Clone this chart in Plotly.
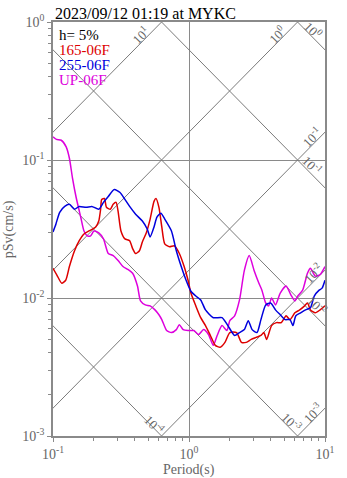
import numpy as np
import plotly.graph_objects as go

# ---------------- data ----------------
periods_165 = [0.1, 0.107, 0.116, 0.124, 0.132, 0.144, 0.156, 0.169, 0.184, 0.206, 0.217, 0.224, 0.228, 0.239,
               0.247, 0.264, 0.277, 0.291, 0.301, 0.316, 0.338, 0.366, 0.385, 0.405, 0.432, 0.454, 0.485, 0.518,
               0.553, 0.572, 0.601, 0.631, 0.663, 0.719, 0.781, 0.849, 0.921, 0.984, 1.033, 1.122, 1.219, 1.322,
               1.436, 1.56, 1.693, 1.838, 1.995, 2.239, 2.43, 2.638, 2.865, 3.112, 3.38, 3.548, 3.725, 4.046,
               4.396, 4.772, 5.176, 5.527, 6.005, 6.516, 7.079, 7.431, 7.816, 8.484, 9.204, 10.0]
psv_165 = [0.0164, 0.0146, 0.0128, 0.01345, 0.0169, 0.022, 0.026, 0.0291, 0.0306, 0.0327, 0.0361, 0.044, 0.0518,
           0.0526, 0.0454, 0.044, 0.0477, 0.0493, 0.0425, 0.0306, 0.0268, 0.026, 0.0228, 0.021, 0.022, 0.0255,
           0.0296, 0.0373, 0.0501, 0.0526, 0.0454, 0.0327, 0.0247, 0.0235, 0.0239, 0.021, 0.0169, 0.01345, 0.01086,
           0.00877, 0.0072, 0.00631, 0.00535, 0.00454, 0.0044, 0.00477, 0.00562, 0.00562, 0.00477, 0.00477,
           0.00501, 0.00518, 0.00535, 0.00562, 0.00501, 0.00631, 0.00663, 0.00663, 0.00743, 0.00697, 0.00781,
           0.0082, 0.00877, 0.0092, 0.0082, 0.00781, 0.0082, 0.00877]

periods_255 = [0.1, 0.105, 0.112, 0.122, 0.132, 0.144, 0.156, 0.175, 0.193, 0.217, 0.235, 0.255, 0.282, 0.311,
               0.338, 0.366, 0.405, 0.454, 0.493, 0.518, 0.553, 0.581, 0.621, 0.663, 0.743, 0.807, 0.877, 0.952,
               1.033, 1.122, 1.219, 1.322, 1.509, 1.75, 1.931, 2.165, 2.352, 2.553, 2.727, 2.913, 3.162, 3.38,
               3.664, 3.981, 4.325, 4.688, 5.093, 5.527, 5.808, 6.105, 6.625, 7.197, 7.816, 8.337, 9.057, 9.52, 10.0]
psv_255 = [0.0301, 0.0343, 0.0418, 0.0461, 0.0477, 0.044, 0.0461, 0.0454, 0.0461, 0.044, 0.0493, 0.0544, 0.0611,
           0.0581, 0.0518, 0.0461, 0.0405, 0.0361, 0.0316, 0.0277, 0.0327, 0.0385, 0.0411, 0.0373, 0.0306, 0.022,
           0.0169, 0.01345, 0.0112, 0.01033, 0.00968, 0.0082, 0.0072, 0.0072, 0.00631, 0.00535, 0.00562, 0.0059,
           0.00685, 0.0059, 0.00562, 0.00697, 0.00891, 0.0092, 0.0082, 0.00756, 0.00697, 0.00697, 0.00631,
           0.00743, 0.00781, 0.0082, 0.00849, 0.01033, 0.0114, 0.01179, 0.01345]

periods_up = [0.1, 0.106, 0.115, 0.125, 0.132, 0.139, 0.148, 0.16, 0.169, 0.179, 0.189, 0.2, 0.217, 0.235, 0.255,
              0.277, 0.301, 0.327, 0.355, 0.385, 0.418, 0.44, 0.477, 0.518, 0.562, 0.601, 0.631, 0.685, 0.743,
              0.807, 0.849, 0.906, 0.984, 1.086, 1.179, 1.28, 1.39, 1.509, 1.611, 1.75, 1.9, 1.995, 2.165, 2.352,
              2.553, 2.773, 3.01, 3.266, 3.436, 3.664, 3.852, 4.046, 4.325, 4.688, 5.176, 5.623, 6.005, 6.31,
              6.849, 7.431, 7.816, 8.484, 9.204, 10.0]
psv_up = [0.147, 0.141, 0.139, 0.1245, 0.103, 0.0743, 0.0535, 0.0385, 0.0306, 0.0282, 0.0282, 0.0306, 0.0296,
          0.0268, 0.021, 0.0203, 0.0187, 0.0169, 0.0161, 0.0151, 0.0122, 0.00952, 0.00891, 0.00877, 0.0082,
          0.00756, 0.00697, 0.00581, 0.00562, 0.0059, 0.00641, 0.0059, 0.00581, 0.00581, 0.00544, 0.0059,
          0.00544, 0.00454, 0.00535, 0.00631, 0.00581, 0.00685, 0.00743, 0.00968, 0.01585, 0.0203, 0.01585,
          0.0128, 0.0114, 0.0092, 0.00877, 0.01, 0.00891, 0.01086, 0.0122, 0.0105, 0.00952, 0.01033, 0.0114,
          0.0151, 0.0164, 0.0144, 0.0148, 0.0169]

series_names = ["165-06F", "255-06F", "UP-06F"]
series_colors = ["#dd0000", "#0000dd", "#dd00dd"]

title_text = "2023/09/12 01:19 at MYKC"
damping_text = "h= 5%"

# tripartite grid levels
sd_levels = [1e-4, 1e-3, 1e-2, 1e-1, 1.0]      # displacement (cm)
sa_levels = [1e-3, 1e-2, 1e-1, 1.0, 10.0]      # acceleration (cm/s^2)

# labels of the diagonal lines: (text, period, psv, kind)
diag_labels = [
    ("10<sup>1</sup>", 0.44, 0.80, "sa"),
    ("10<sup>0</sup>", 4.47, 0.82, "sa"),
    ("10<sup>0</sup>", 8.2, 0.87, "sd"),
    ("10<sup>-1</sup>", 7.94, 0.148, "sa"),
    ("10<sup>-1</sup>", 8.07, 0.092, "sd"),
    ("10<sup>-2</sup>", 8.2, 0.0151, "sa"),
    ("10<sup>-2</sup>", 8.77, 0.0089, "sd"),
    ("10<sup>-3</sup>", 8.07, 0.00148, "sa"),
    ("10<sup>-3</sup>", 5.71, 0.00126, "sd"),
    ("10<sup>-4</sup>", 0.553, 0.00122, "sd"),
]

FONT = "Liberation Serif"
GRAY = "#8a8a8a"
LINE_GRAY = "#7a7a7a"
TXT_GRAY = "#666666"

fig = go.Figure()

Tends = np.array([0.01, 100.0])
for sd in sd_levels:
    fig.add_trace(go.Scatter(x=Tends, y=2 * np.pi * sd / Tends, mode="lines",
                             line=dict(color=LINE_GRAY, width=1), hoverinfo="skip", showlegend=False))
for sa in sa_levels:
    fig.add_trace(go.Scatter(x=Tends, y=sa * Tends / (2 * np.pi), mode="lines",
                             line=dict(color=LINE_GRAY, width=1), hoverinfo="skip", showlegend=False))

for per, val, name, col in [(periods_up, psv_up, series_names[2], series_colors[2]),
                            (periods_165, psv_165, series_names[0], series_colors[0]),
                            (periods_255, psv_255, series_names[1], series_colors[1])]:
    fig.add_trace(go.Scatter(x=per, y=val, mode="lines", name=name,
                             line=dict(color=col, width=1.5, shape="spline", smoothing=0.6),
                             showlegend=False))

annotations = []
for txt, T, v, kind in diag_labels:
    annotations.append(dict(x=np.log10(T), y=np.log10(v), xref="x", yref="y", text=txt,
                            showarrow=False, textangle=-45 if kind == "sa" else 45,
                            font=dict(family=FONT, size=13, color=TXT_GRAY)))

# title and legend texts
annotations.append(dict(x=0, y=1.021, xref="paper", yref="paper", xanchor="left", yanchor="middle",
                        text=title_text, showarrow=False, font=dict(family=FONT, size=16, color="black")))
leg_y = [0.968, 0.932, 0.896, 0.861]
leg_txt = [damping_text] + series_names
leg_col = ["black"] + series_colors
for yy, t, c in zip(leg_y, leg_txt, leg_col):
    annotations.append(dict(x=0.016, y=yy, xref="paper", yref="paper", xanchor="left", yanchor="middle",
                            text=t, showarrow=False, font=dict(family=FONT, size=15, color=c)))

# axis titles
annotations.append(dict(x=0.5, y=-0.083, xref="paper", yref="paper", xanchor="center", yanchor="middle",
                        text="Period(s)", showarrow=False, font=dict(family=FONT, size=14, color=TXT_GRAY)))
annotations.append(dict(x=-0.161, y=0.5, xref="paper", yref="paper", xanchor="center", yanchor="middle",
                        text="pSv(cm/s)", textangle=-90, showarrow=False,
                        font=dict(family=FONT, size=14, color=TXT_GRAY)))

minor_x = [m * 10.0 ** e for e in (-1, 0) for m in range(2, 10)]
minor_y = [m * 10.0 ** e for e in (-3, -2, -1) for m in range(2, 10)]

axis_common = dict(type="log", showline=True, linecolor=GRAY, linewidth=1.5, mirror=True,
                   showgrid=True, gridcolor=GRAY, gridwidth=1, zeroline=False,
                   ticks="outside", ticklen=4, tickcolor=GRAY, tickwidth=1,
                   tickfont=dict(family=FONT, size=14, color=TXT_GRAY))

fig.update_layout(
    width=347, height=478,
    margin=dict(l=53, r=14, t=15, b=42),
    paper_bgcolor="white", plot_bgcolor="white",
    xaxis=dict(range=[-1, 1], tickvals=[0.1, 1, 10],
               ticktext=["10<sup>-1</sup>", "10<sup>0</sup>", "10<sup>1</sup>"],
               minor=dict(tickvals=minor_x, ticks="outside", ticklen=3, tickcolor=GRAY, showgrid=False),
               **axis_common),
    yaxis=dict(range=[-3, 0], tickvals=[0.001, 0.01, 0.1, 1],
               ticktext=["10<sup>-3</sup>", "10<sup>-2</sup>", "10<sup>-1</sup>", "10<sup>0</sup>"],
               minor=dict(tickvals=minor_y, ticks="outside", ticklen=3, tickcolor=GRAY, showgrid=False),
               **axis_common),
    annotations=annotations,
    showlegend=False,
)

fig.write_html("out.html")
